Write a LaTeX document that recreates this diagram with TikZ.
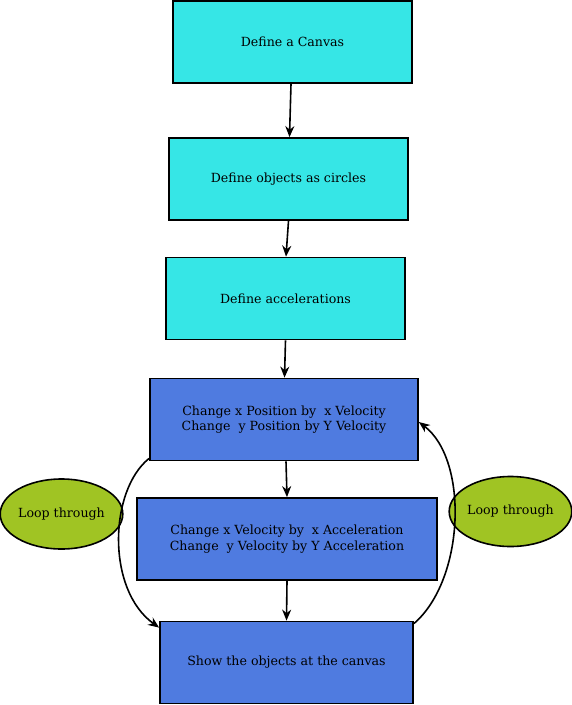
\documentclass[tikz,border=0pt]{standalone}
\usepackage{fontspec}
\setmainfont{DejaVu Serif}
\usetikzlibrary{arrows.meta, shapes.geometric}

\definecolor{boxcyan}{HTML}{36E6E6}
\definecolor{boxblue}{HTML}{4F7BE0}
\definecolor{loopgreen}{HTML}{A0C423}

\tikzset{
    stepbox/.style={draw, line width=1.8pt, minimum width=#1, minimum height=82pt,
        inner sep=0pt, align=center, font=\fontsize{12.6}{15.5}\selectfont},
    cyanbox/.style={stepbox=239pt, fill=boxcyan},
    bluebox/.style={stepbox=#1, fill=boxblue},
    loopnode/.style={ellipse, draw, line width=1.6pt, fill=loopgreen, minimum width=121pt,
        minimum height=70pt, inner sep=0pt, font=\fontsize{12.6}{14}\selectfont},
    arr/.style={-{Stealth[length=11pt,width=9pt]}, line width=1.6pt}
}

\begin{document}
\begin{tikzpicture}[x=1pt,y=-1pt]
    \useasboundingbox (0,0) rectangle (572,705);
    % main steps
    \node[cyanbox] (canvas) at (292.5,42) {Define a Canvas};
    \node[cyanbox] (objects) at (288.5,179) {Define objects as circles};
    \node[cyanbox] (accel) at (285.5,298.5) {Define accelerations};
    \node[bluebox=268pt] (pos) at (284,419.5) {Change x Position by\ \ x Velocity\\Change\ \ y Position by Y Velocity};
    \node[bluebox=300pt] (vel) at (287,539) {Change x Velocity by\ \ x Acceleration\\Change\ \ y Velocity by Y Acceleration};
    \node[bluebox=253pt] (show) at (286.5,662.5) {Show the objects at the canvas};
    % loop labels
    \node[loopnode] (loopL) at (61.5,514) {Loop through};
    \node[loopnode] (loopR) at (510.5,511.5) {Loop through};
    % arrows
    \draw[arr] ([xshift=-1.5pt]canvas.south) -- ([xshift=1pt]objects.north);
    \draw[arr] (objects.south) -- ([xshift=0.5pt]accel.north);
    \draw[arr] (accel.south) -- ([xshift=0.5pt]pos.north);
    \draw[arr] ([xshift=2pt]pos.south) -- (vel.north);
    \draw[arr] (vel.south) -- (show.north);
    \draw[arr] ([yshift=3pt]pos.south west) .. controls +(-40,32) and +(-53,-38) .. ([yshift=-7pt]show.north west);
    \draw[arr] ([yshift=-3pt]show.north east) .. controls +(51,-44) and +(50,38) .. ([yshift=-2.5pt]pos.east);
\end{tikzpicture}
\end{document}
